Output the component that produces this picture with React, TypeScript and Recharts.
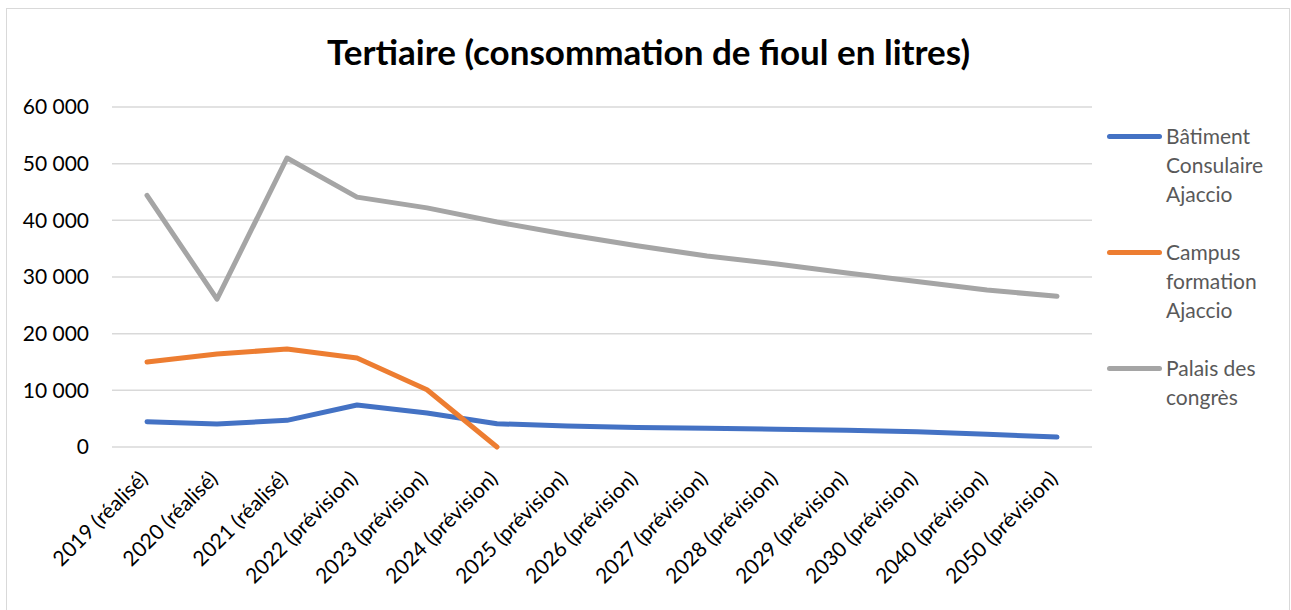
import { LineChart, Line, XAxis, YAxis, CartesianGrid } from "recharts";

const categories = [
  "2019 (réalisé)",
  "2020 (réalisé)",
  "2021 (réalisé)",
  "2022 (prévision)",
  "2023 (prévision)",
  "2024 (prévision)",
  "2025 (prévision)",
  "2026 (prévision)",
  "2027 (prévision)",
  "2028 (prévision)",
  "2029 (prévision)",
  "2030 (prévision)",
  "2040 (prévision)",
  "2050 (prévision)",
];

const batimentConsulaire = [4450, 4050, 4700, 7400, 6000, 4100, 3700, 3450, 3300, 3150, 2950, 2700, 2250, 1750];
const campusFormation: (number | null)[] = [15000, 16400, 17300, 15700, 10100, 0, null, null, null, null, null, null, null, null];
const palaisCongres = [44400, 26100, 51000, 44100, 42200, 39700, 37500, 35500, 33700, 32300, 30700, 29200, 27700, 26600];

const yTicks = [0, 10000, 20000, 30000, 40000, 50000, 60000];

const series = [
  { key: "bat", name: "Bâtiment Consulaire Ajaccio", color: "#4472c4" },
  { key: "campus", name: "Campus formation Ajaccio", color: "#ed7d31" },
  { key: "palais", name: "Palais des congrès", color: "#a5a5a5" },
];

const data = categories.map((c, i) => ({
  cat: c,
  bat: batimentConsulaire[i],
  campus: campusFormation[i],
  palais: palaisCongres[i],
}));

const FONT = "Lato, 'Noto Sans', sans-serif";

const fmt = (v: number) => (v === 0 ? "0" : `${Math.round(v / 1000)} 000`);

function XTick({ x, y, payload }: any) {
  const ax = x + 2;
  const ay = y + 25;
  return (
    <text
      x={ax}
      y={ay}
      transform={`rotate(-45, ${ax}, ${ay})`}
      textAnchor="end"
      fontSize={21}
      fontFamily={FONT}
      fill="#000"
    >
      {payload.value}
    </text>
  );
}

function LegendBox() {
  return (
    <div
      style={{
        position: "absolute",
        left: 1107,
        top: 121,
        fontFamily: FONT,
        fontSize: 21,
        color: "#595959",
        lineHeight: "29px",
      }}
    >
      {series.map((s) => (
        <div key={s.key} style={{ display: "flex", alignItems: "flex-start", marginBottom: 29 }}>
          <div
            style={{
              width: 55,
              height: 5,
              borderRadius: 3,
              background: s.color,
              marginTop: 13,
              marginRight: 4,
              flexShrink: 0,
            }}
          />
          <div style={{ width: 120 }}>{s.name}</div>
        </div>
      ))}
    </div>
  );
}

export default function App() {
  return (
    <div style={{ position: "absolute", left: 0, top: 0, width: 1291, height: 610, background: "#fff" }}>
      <div
        style={{
          position: "absolute",
          left: 6,
          top: 8,
          width: 1284,
          height: 610,
          border: "1.5px solid #d9d9d9",
          boxSizing: "border-box",
        }}
      />
      <div
        style={{
          position: "absolute",
          left: 6,
          top: 30,
          width: 1285,
          textAlign: "center",
          fontFamily: FONT,
          fontWeight: 700,
          fontSize: 35,
          color: "#000",
        }}
      >
        Tertiaire (consommation de fioul en litres)
      </div>
      <div style={{ position: "absolute", left: 0, top: 0 }}>
        <LineChart
          width={1291}
          height={610}
          data={data}
          margin={{ top: 107, right: 199, left: 0, bottom: 0 }}
        >
          <CartesianGrid vertical={false} stroke="#d9d9d9" strokeWidth={1.5} />
          <XAxis
            dataKey="cat"
            interval={0}
            padding={{ left: 35, right: 35 }}
            axisLine={false}
            tickLine={false}
            tick={<XTick />}
            height={163}
          />
          <YAxis
            domain={[0, 60000]}
            ticks={yTicks}
            tickFormatter={fmt}
            axisLine={false}
            tickLine={false}
            tickSize={0}
            tickMargin={23}
            width={112}
            tick={{ fontSize: 21, fontFamily: FONT, fill: "#000" }}
          />
          {series.map((s) => (
            <Line
              key={s.key}
              type="linear"
              dataKey={s.key}
              name={s.name}
              stroke={s.color}
              strokeWidth={5}
              strokeLinecap="round"
              strokeLinejoin="round"
              dot={false}
              activeDot={false}
              isAnimationActive={false}
            />
          ))}
        </LineChart>
      </div>
      <LegendBox />
    </div>
  );
}
